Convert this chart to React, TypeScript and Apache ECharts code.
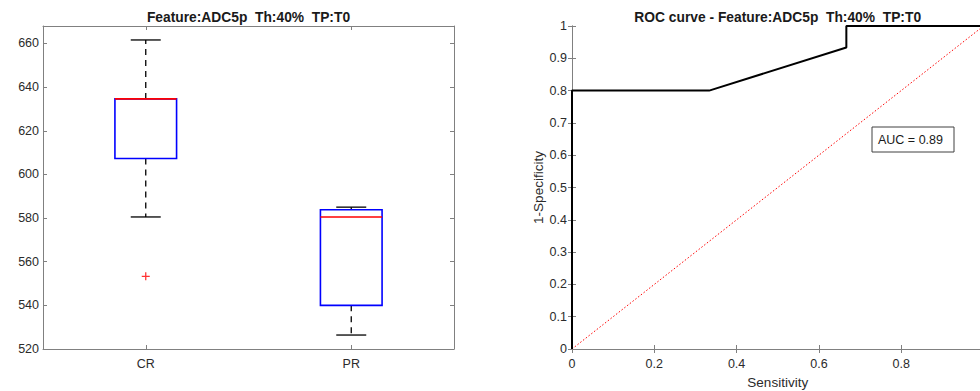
import React, { useEffect, useRef } from "react";
import * as echarts from "echarts";

// ---- Data ----
const categories = ["CR", "PR"];
const lowerWhisker = [580.5, 526.4];
const q1 = [607.3, 540.0];
const median = [634.6, 580.5];
const q3 = [634.6, 583.8];
const upperWhisker = [661.6, 585.0];
const outlierCategory = ["CR"];
const outlierValue = [553.3];

const rocX = [0, 0, 0.3333, 0.6667, 0.6667, 1];
const rocY = [0, 0.8, 0.8, 0.9333, 1, 1];
const chanceX = [0, 1];
const chanceY = [0, 1];
const aucText = "AUC = 0.89";

const leftTitle = "Feature:ADC5p  Th:40%  TP:T0";
const rightTitle = "ROC curve - Feature:ADC5p  Th:40%  TP:T0";

const FONT = "'Liberation Sans', Arial, Helvetica, sans-serif";
const AXIS_COLOR = "#808080";
const LABEL_COLOR = "#2b2b2b";

export default function App() {
  const ref = useRef<HTMLDivElement>(null);

  useEffect(() => {
    document.body.style.margin = "0";
    if (!ref.current) return;
    const chart = echarts.init(ref.current, undefined, { renderer: "svg" });

    const boxData = categories.map((_, i) => [
      i,
      lowerWhisker[i],
      q1[i],
      median[i],
      q3[i],
      upperWhisker[i],
    ]);
    const outlierData = outlierCategory.map((c, i) => [
      categories.indexOf(c),
      outlierValue[i],
    ]);

    const axisLine = { show: true, lineStyle: { color: AXIS_COLOR, width: 1 } };
    const tick = { show: true, inside: true, length: 4, lineStyle: { color: AXIS_COLOR } };
    const label = { color: LABEL_COLOR, fontSize: 12.5, fontFamily: FONT };
    const nameStyle = { color: LABEL_COLOR, fontSize: 13.5, fontFamily: FONT };
    const titleStyle = { fontSize: 13.8, fontWeight: "bold", fontFamily: FONT, color: "#1a1a1a" };

    const option: any = {
      animation: false,
      backgroundColor: "#ffffff",
      title: [
        { text: leftTitle, left: 248.5, top: 10.5, textAlign: "center", padding: 0, textStyle: titleStyle },
        { text: rightTitle, left: 777.7, top: 10.5, textAlign: "center", padding: 0, textStyle: titleStyle },
      ],
      grid: [
        { left: 43, top: 26, width: 411, height: 323, containLabel: false, outerBoundsMode: "none" },
        { left: 572, top: 26, width: 411.5, height: 323, containLabel: false, outerBoundsMode: "none" },
      ],
      xAxis: [
        {
          type: "category",
          gridIndex: 0,
          data: categories,
          boundaryGap: true,
          axisLine,
          axisTick: { ...tick, alignWithLabel: true },
          axisLabel: { ...label, margin: 8 },
          splitLine: { show: false },
        },
        {
          type: "category",
          gridIndex: 0,
          position: "top",
          data: categories,
          boundaryGap: true,
          axisLine,
          axisTick: { ...tick, alignWithLabel: true },
          axisLabel: { show: false },
          splitLine: { show: false },
        },
        {
          type: "value",
          gridIndex: 1,
          min: 0,
          max: 1,
          interval: 0.2,
          name: "Sensitivity",
          nameLocation: "middle",
          nameGap: 26,
          nameTextStyle: nameStyle,
          axisLine,
          axisTick: tick,
          axisLabel: { ...label, margin: 8 },
          splitLine: { show: false },
        },
        {
          type: "value",
          gridIndex: 1,
          position: "top",
          min: 0,
          max: 1,
          interval: 0.2,
          axisLine,
          axisTick: tick,
          axisLabel: { show: false },
          splitLine: { show: false },
        },
      ],
      yAxis: [
        {
          type: "value",
          gridIndex: 0,
          min: 520,
          max: 668,
          interval: 20,
          axisLine,
          axisTick: tick,
          axisLabel: { ...label, margin: 4, showMaxLabel: false },
          splitLine: { show: false },
        },
        {
          type: "value",
          gridIndex: 0,
          position: "right",
          min: 520,
          max: 668,
          interval: 20,
          axisLine,
          axisTick: tick,
          axisLabel: { show: false },
          splitLine: { show: false },
        },
        {
          type: "value",
          gridIndex: 1,
          min: 0,
          max: 1,
          interval: 0.1,
          name: "1-Specificity",
          nameLocation: "middle",
          nameGap: 27,
          nameTextStyle: nameStyle,
          axisLine,
          axisTick: tick,
          axisLabel: { ...label, margin: 5 },
          splitLine: { show: false },
        },
        {
          type: "value",
          gridIndex: 1,
          position: "right",
          min: 0,
          max: 1,
          interval: 0.1,
          axisLine,
          axisTick: tick,
          axisLabel: { show: false },
          splitLine: { show: false },
        },
      ],
      series: [
        {
          type: "custom",
          xAxisIndex: 0,
          yAxisIndex: 0,
          data: boxData,
          encode: { x: 0, y: [1, 2, 3, 4, 5] },
          clip: false,
          renderItem: (_params: any, api: any) => {
            const idx = api.value(0);
            const band = api.size([1, 0])[0];
            const boxW = band * 0.3;
            const capW = band * 0.146;
            const pLw = api.coord([idx, api.value(1)]);
            const pQ1 = api.coord([idx, api.value(2)]);
            const pMed = api.coord([idx, api.value(3)]);
            const pQ3 = api.coord([idx, api.value(4)]);
            const pUw = api.coord([idx, api.value(5)]);
            const x = pMed[0];
            const whiskerStyle = { stroke: "#000000", lineWidth: 1.3, lineDash: [6, 5] };
            const capStyle = { stroke: "#000000", lineWidth: 1.3 };
            return {
              type: "group",
              children: [
                { type: "line", shape: { x1: x, y1: pQ3[1], x2: x, y2: pUw[1] }, style: whiskerStyle },
                { type: "line", shape: { x1: x, y1: pQ1[1], x2: x, y2: pLw[1] }, style: whiskerStyle },
                { type: "line", shape: { x1: x - capW / 2, y1: pUw[1], x2: x + capW / 2, y2: pUw[1] }, style: capStyle },
                { type: "line", shape: { x1: x - capW / 2, y1: pLw[1], x2: x + capW / 2, y2: pLw[1] }, style: capStyle },
                {
                  type: "rect",
                  shape: { x: x - boxW / 2, y: pQ3[1], width: boxW, height: pQ1[1] - pQ3[1] },
                  style: { fill: "none", stroke: "#0000ff", lineWidth: 1.6 },
                },
                {
                  type: "line",
                  shape: { x1: x - boxW / 2, y1: pMed[1], x2: x + boxW / 2, y2: pMed[1] },
                  style: { stroke: "#ff0000", lineWidth: 1.6 },
                },
              ],
            };
          },
        },
        {
          type: "scatter",
          xAxisIndex: 0,
          yAxisIndex: 0,
          data: outlierData,
          symbol: "path://M4.2,0H5.8V4.2H10V5.8H5.8V10H4.2V5.8H0V4.2H4.2Z",
          symbolSize: 8,
          itemStyle: { color: "#ff0000" },
        },
        {
          type: "line",
          xAxisIndex: 2,
          yAxisIndex: 2,
          data: chanceX.map((v, i) => [v, chanceY[i]]),
          symbol: "none",
          clip: false,
          lineStyle: { color: "#ff0000", width: 1, type: [1.5, 2] },
        },
        {
          type: "line",
          xAxisIndex: 2,
          yAxisIndex: 2,
          data: rocX.map((v, i) => [v, rocY[i]]),
          symbol: "none",
          clip: false,
          lineStyle: { color: "#000000", width: 2 },
        },
      ],
      graphic: [
        {
          type: "rect",
          shape: { x: 872, y: 127, width: 82, height: 25 },
          style: { fill: "#ffffff", stroke: "#404040", lineWidth: 1 },
          z: 10,
        },
        {
          type: "text",
          x: 878,
          y: 139.5,
          style: {
            text: aucText,
            fontSize: 12.5,
            fontFamily: FONT,
            fill: "#1a1a1a",
            textVerticalAlign: "middle",
            verticalAlign: "middle",
          },
          z: 11,
        },
      ],
    };

    chart.setOption(option);
    return () => chart.dispose();
  }, []);

  return <div ref={ref} style={{ width: 980, height: 391 }} />;
}
